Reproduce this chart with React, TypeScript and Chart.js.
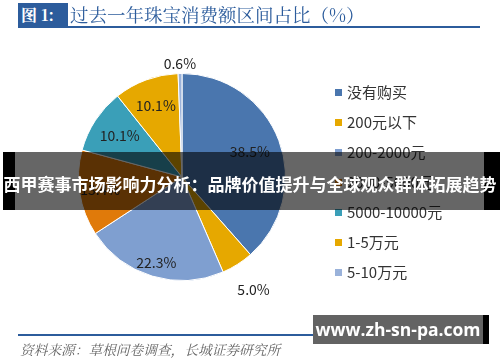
import React, { useEffect, useRef } from "react";
import { Chart, registerables } from "chart.js";

Chart.register(...registerables);

const categories = ["没有购买", "200元以下", "200-2000元", "2000-5000元", "5000-10000元", "1-5万元", "5-10万元"];
const shares = [38.5, 5.0, 22.3, 13.4, 10.1, 10.1, 0.6];
const sliceColors = ["#4A76AE", "#E6A800", "#7F9FD0", "#E07A0A", "#3A9FB8", "#E6A800", "#9AB2DA"];
// label placement: fraction of radius for inside labels, or pixel offset beyond the edge for outside ones
const labelInside = [0.7, 0, 0.86, 0.8, 0.72, 0.73, 0];
const labelOutside = [0, 30, 0, 0, 0, 0, 10];

const labelPlugin = {
  id: "sliceLabels",
  afterDatasetsDraw(chart: any) {
    const ctx = chart.ctx;
    const meta = chart.getDatasetMeta(0);
    ctx.save();
    ctx.font = '14px "Noto Sans CJK SC", "DejaVu Sans", sans-serif';
    ctx.fillStyle = "#222";
    ctx.textAlign = "center";
    ctx.textBaseline = "middle";
    meta.data.forEach((arc: any, i: number) => {
      const p = arc.getProps(["x", "y", "startAngle", "endAngle", "outerRadius"], true);
      const mid = (p.startAngle + p.endAngle) / 2;
      const r = labelOutside[i] ? p.outerRadius + labelOutside[i] : p.outerRadius * labelInside[i];
      const x = p.x + Math.cos(mid) * r;
      const y = p.y + Math.sin(mid) * r;
      ctx.fillText(shares[i].toFixed(1) + "%", x, y);
    });
    ctx.restore();
  },
};

function PieChart() {
  const ref = useRef<HTMLCanvasElement>(null);
  useEffect(() => {
    if (!ref.current) return;
    const chart = new Chart(ref.current, {
      type: "pie",
      data: {
        labels: categories,
        datasets: [
          {
            data: shares,
            backgroundColor: sliceColors,
            borderColor: "#ffffff",
            borderWidth: 1,
          },
        ],
      },
      options: {
        responsive: false,
        animation: false,
        layout: { padding: { left: 78, right: 214, top: 73, bottom: 81 } },
        plugins: { legend: { display: false }, tooltip: { enabled: false } },
      },
      plugins: [labelPlugin],
    });
    return () => chart.destroy();
  }, []);
  return <canvas ref={ref} width={500} height={362} style={{ position: "absolute", left: 0, top: 0 }} />;
}

const legendTops = [92, 122, 152, 182, 212, 242, 272];

export default function App() {
  return (
    <div
      style={{
        position: "absolute",
        left: 0,
        top: 0,
        width: 500,
        height: 362,
        background: "#fff",
        overflow: "hidden",
        fontFamily: '"Noto Sans CJK SC", sans-serif',
      }}
    >
      <PieChart />
      {/* title */}
      <div
        style={{
          position: "absolute",
          left: 18,
          top: 3,
          width: 50,
          height: 24,
          background: "#2C5C9C",
          color: "#fff",
          fontFamily: '"Noto Serif CJK SC", "DejaVu Serif", serif',
          fontWeight: 700,
          fontSize: 16,
          lineHeight: "24px",
          paddingLeft: 3,
          boxSizing: "border-box",
        }}
      >
        图 1:
      </div>
      <div
        style={{
          position: "absolute",
          left: 70,
          top: 2,
          color: "#2C5C9C",
          fontFamily: '"Noto Serif CJK SC", "Noto Sans CJK SC", serif',
          fontSize: 18.5,
          lineHeight: "24px",
          whiteSpace: "nowrap",
        }}
      >
        过去一年珠宝消费额区间占比（%）
      </div>
      <div style={{ position: "absolute", left: 18, top: 26, width: 462, height: 2, background: "#2C5C9C" }} />
      {/* legend */}
      {categories.map((c, i) => (
        <div key={c} style={{ position: "absolute", left: 335, top: legendTops[i] - 10, height: 20, display: "flex", alignItems: "center", whiteSpace: "nowrap" }}>
          <span style={{ display: "inline-block", width: 7, height: 7, background: sliceColors[i], marginRight: 5 }} />
          <span style={{ fontSize: 15, color: "#333", lineHeight: "20px" }}>{c}</span>
        </div>
      ))}
      {/* source */}
      <div style={{ position: "absolute", left: 18, top: 334, width: 320, height: 2, background: "#2C5C9C" }} />
      <div
        style={{
          position: "absolute",
          left: 20,
          top: 340,
          fontSize: 13.7,
          color: "#666",
          fontStyle: "italic",
          fontFamily: '"Noto Serif CJK SC", "Noto Sans CJK SC", serif',
          whiteSpace: "nowrap",
          lineHeight: "18px",
        }}
      >
        资料来源：草根问卷调查，长城证券研究所
      </div>
      {/* overlay banner */}
      <div style={{ position: "absolute", left: 3, top: 152, width: 12, height: 58, background: "#000" }} />
      <div style={{ position: "absolute", left: 484, top: 152, width: 16, height: 58, background: "#000" }} />
      <div style={{ position: "absolute", left: 15, top: 152, width: 469, height: 58, background: "rgba(0,0,0,0.6)" }} />
      <div
        style={{
          position: "absolute",
          left: 0,
          top: 172,
          width: 500,
          textAlign: "center",
          color: "#fff",
          fontWeight: 700,
          fontSize: 17,
          lineHeight: "24px",
          whiteSpace: "nowrap",
          letterSpacing: 0,
        }}
      >
        西甲赛事市场影响力分析：品牌价值提升与全球观众群体拓展趋势
      </div>
      {/* watermark */}
      <div style={{ position: "absolute", left: 313, top: 315, width: 170, height: 29, background: "#636363" }} />
      <div style={{ position: "absolute", left: 483, top: 315, width: 6, height: 29, background: "#000" }} />
      <div
        style={{
          position: "absolute",
          left: 313,
          top: 315,
          width: 170,
          height: 29,
          textAlign: "center",
          color: "#fff",
          fontWeight: 700,
          fontSize: 17.5,
          lineHeight: "29px",
          fontFamily: '"Open Sans", "DejaVu Sans", sans-serif',
          whiteSpace: "nowrap",
        }}
      >
        www.zh-sn-pa.com
      </div>
    </div>
  );
}
